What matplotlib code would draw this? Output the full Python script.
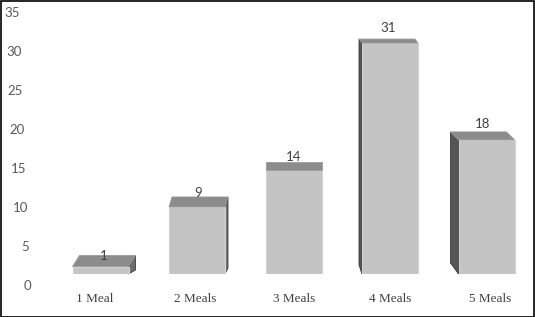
import matplotlib
matplotlib.use("Agg")
import matplotlib.pyplot as plt
from matplotlib.patches import Polygon, Rectangle

# ---- data ----
categories = ["1 Meal", "2 Meals", "3 Meals", "4 Meals", "5 Meals"]
values = [1, 9, 14, 31, 18]
tick_values = [0, 5, 10, 15, 20, 25, 30, 35]

# ---- perspective styling (pixels) ----
side_dx = [7, 3, 0, -3, -8]        # horizontal shift of back edge
top_dy = [11, 10, 8, 4, 8]         # vertical rise of back top edge
bottom_dy = [4, 6, 0, 9, 11]       # vertical rise of back bottom edge
label_dx = [-5.5, -2, 1, 0, 3.5]   # category label offsets
datalabel_dy = [11, 14, 13, 15, 16]

W, H = 535, 317
fig = plt.figure(figsize=(W / 100, H / 100), dpi=100)
fig.patch.set_facecolor("white")

PX_X = 96.5   # pixels per category
PX_Y = 7.45   # pixels per unit (bars)
base_px = 274
left_px = 100.5 - PX_X / 2
ymax = 36
ax = fig.add_axes([left_px / W, (H - base_px) / H, 5 * PX_X / W, ymax * PX_Y / H])
ax.set_xlim(-0.5, 4.5)
ax.set_ylim(0, ymax)
ax.axis("off")

bw = 56 / PX_X
front_c = "#c4c4c4"
top_c = "#8c8c8c"
side_c = "#555555"

bars = ax.bar(range(len(values)), values, width=bw, color=front_c,
              edgecolor="#d2d2d2", linewidth=0.8, zorder=3)
for i, (b, v) in enumerate(zip(bars, values)):
    x0 = b.get_x()
    x1 = x0 + b.get_width()
    dx = side_dx[i] / PX_X
    dyt = top_dy[i] / PX_Y
    dyb = bottom_dy[i] / PX_Y
    # top face
    ax.add_patch(Polygon([(x0, v), (x1, v), (x1 + dx, v + dyt), (x0 + dx, v + dyt)],
                         closed=True, facecolor=top_c, edgecolor="#9a9a9a",
                         linewidth=0.6, zorder=4, clip_on=False))
    # side face
    if dx > 0:
        ax.add_patch(Polygon([(x1, 0), (x1, v), (x1 + dx, v + dyt), (x1 + dx, dyb)],
                             closed=True, facecolor="#6e6e6e", edgecolor="#3a3a3a",
                             linewidth=0.6, zorder=2, clip_on=False))
    elif dx < 0:
        ax.add_patch(Polygon([(x0, 0), (x0, v), (x0 + dx, v + dyt), (x0 + dx, dyb)],
                             closed=True, facecolor=side_c, edgecolor="#3a3a3a",
                             linewidth=0.6, zorder=2, clip_on=False))
    # data label
    ax.text(b.get_x() + b.get_width() / 2 + side_dx[i] / 2 / PX_X,
            v + datalabel_dy[i] / PX_Y, str(v), ha="center", va="center",
            fontsize=9.5, color="#404040", family="Lato", zorder=6)
    # category label
    ax.text(i + label_dx[i] / PX_X, -(299 - base_px) / PX_Y, categories[i],
            ha="center", va="center", fontsize=9.5, color="#404040",
            family="Liberation Serif", clip_on=False)

# ---- y-axis tick labels (perspective axis) ----
ax2 = fig.add_axes([0, (H - 286) / H, 1, 273 / H])
ax2.set_xlim(0, W)
ax2.set_ylim(0, 35)
ax2.axis("off")
for t in tick_values:
    ax2.text(31 - t * 11 / 35, t, str(t), ha="right", va="center",
             fontsize=9.5, color="#595959", family="Lato")

# border
fig.patches.append(Rectangle((0.5 / W, 0.5 / H), 1 - 1.5 / W, 1 - 1.5 / H,
                             transform=fig.transFigure, fill=False,
                             edgecolor="black", linewidth=1.2))

fig.savefig("out.png", dpi=100)
